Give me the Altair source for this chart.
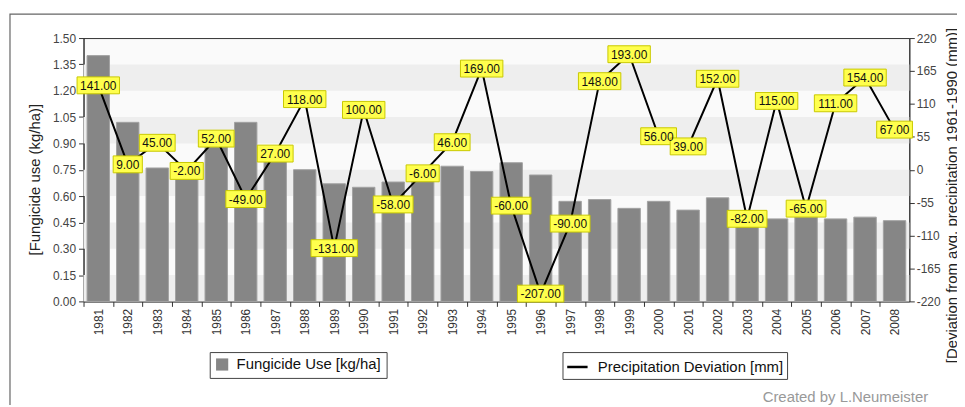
import altair as alt
import pandas as pd

years = [str(y) for y in range(1981, 2009)]
fungicide = [1.40, 1.02, 0.76, 0.73, 0.88, 1.02, 0.81, 0.75, 0.67, 0.65,
             0.68, 0.70, 0.77, 0.74, 0.79, 0.72, 0.57, 0.58, 0.53, 0.57,
             0.52, 0.59, 0.50, 0.47, 0.48, 0.47, 0.48, 0.46]
precip = [141, 9, 45, -2, 52, -49, 27, 118, -131, 100, -58, -6, 46, 169,
          -60, -207, -90, 148, 193, 56, 39, 152, -82, 115, -65, 111, 154, 67]

left_ticks = [0.00, 0.15, 0.30, 0.45, 0.60, 0.75, 0.90, 1.05, 1.20, 1.35, 1.50]
right_ticks = [-220, -165, -110, -55, 0, 55, 110, 165, 220]
bar_label = "Fungicide Use [kg/ha]"
line_label = "Precipitation Deviation [mm]"
left_title = "[Fungicide use (kg/ha)]"
right_title = "[Deviation from avg. precipitation 1961-1990 (mm)]"
credit = "Created by L.Neumeister"

W, H = 831, 265
FONT = "Liberation Sans"
step = W / len(years)

df = pd.DataFrame({"year": years, "fung": fungicide, "prec": precip})
# gray bands are every other tick interval, starting from 0
bands = pd.DataFrame({"lo": [left_ticks[i] for i in range(0, 10, 2)],
                      "hi": [left_ticks[i + 1] for i in range(0, 10, 2)]})

xenc = alt.X("year:N", sort=years,
             scale=alt.Scale(paddingInner=0.24, paddingOuter=0.12),
             axis=alt.Axis(title=None, labelAngle=270, labelFont=FONT, labelFontSize=12,
                           labelColor="#333", tickColor="#333", domainColor="#333",
                           tickSize=5, labelPadding=2,
                           tickOffset=-step / 2, labelOffset=step / 2))

lscale = alt.Scale(domain=[0, 1.5], nice=False, zero=True)
laxis = alt.Axis(values=left_ticks, format=".2f", title=left_title, grid=False,
                 labelFont=FONT, labelFontSize=12, labelColor="#444", tickColor="#333",
                 domainColor="#333", tickSize=5, labelPadding=3,
                 titleFont=FONT, titleFontSize=15, titleFontWeight="normal", titleColor="#222",
                 titleAngle=270, titleAlign="center", titleBaseline="middle",
                 titleX=-49, titleY=142)

rscale = alt.Scale(domain=[-220, 220], nice=False, zero=False)
raxis = alt.Axis(orient="right", values=right_ticks, labelExpr="datum.value + ''",
                 title=right_title, grid=False,
                 labelFont=FONT, labelFontSize=12, labelColor="#444", tickColor="#333",
                 domainColor="#333", tickSize=5, labelPadding=2,
                 titleFont=FONT, titleFontSize=15, titleFontWeight="normal", titleColor="#222",
                 titleAngle=270, titleAlign="center", titleBaseline="middle",
                 titleX=43, titleY=158)

band_layer = alt.Chart(bands).mark_rect(color="#eeeeee").encode(
    y=alt.Y("lo:Q", scale=lscale, axis=laxis), y2="hi:Q")

bar_layer = alt.Chart(df).mark_bar(stroke="#a2a2a2", strokeWidth=1).transform_calculate(
    s1=f"'{bar_label}'").encode(
    x=xenc,
    y=alt.Y("fung:Q", scale=lscale, axis=laxis),
    color=alt.Color("s1:N", scale=alt.Scale(domain=[bar_label], range=["#868686"]),
                    legend=alt.Legend(title=None, orient="none", legendX=127, legendY=316,
                                      symbolType="square", symbolSize=150,
                                      symbolStrokeWidth=0,
                                      labelFont=FONT, labelFontSize=15, labelColor="#111",
                                      labelLimit=400, strokeColor="#444", fillColor="white",
                                      padding=5, labelOffset=7)))

left = alt.layer(band_layer, bar_layer)

base_r = alt.Chart(df).transform_calculate(
    lab="replace(format(datum.prec, '.2f'), '\u2212', '-')",
    s2=f"'{line_label}'").transform_calculate(
    bw="length(replace(replace(datum.lab, '-', ''), '.', '')) * 6.67 + 3.34 + (datum.prec < 0 ? 4 : 0) + 6")

line_layer = base_r.mark_line(strokeWidth=2).encode(
    x=xenc,
    y=alt.Y("prec:Q", scale=rscale, axis=raxis),
    stroke=alt.Stroke("s2:N", scale=alt.Scale(domain=[line_label], range=["black"]),
                      legend=alt.Legend(title=None, orient="none", legendX=482, legendY=316,
                                        symbolType="stroke", symbolSize=420,
                                        symbolStrokeWidth=2.5,
                                        labelFont=FONT, labelFontSize=15, labelColor="#111",
                                        labelLimit=400, strokeColor="#444", fillColor="white",
                                        padding=3.5, labelOffset=9)))

box_layer = base_r.mark_bar(yOffset=-8.5, y2Offset=8.5, fill="#ffff4d",
                            stroke="#c9c900", strokeWidth=1).encode(
    x=xenc,
    y=alt.Y("prec:Q", scale=rscale, axis=raxis),
    y2="prec:Q",
    size=alt.Size("bw:Q", scale=None, legend=None))

text_layer = base_r.mark_text(font=FONT, fontSize=12, color="#111",
                              baseline="middle", align="center", dy=0.5).encode(
    x=xenc,
    y=alt.Y("prec:Q", scale=rscale, axis=raxis),
    text="lab:N")

right = alt.layer(line_layer, box_layer, text_layer)

one = pd.DataFrame({"k": [0]})
frame = alt.Chart(one).mark_rect(fill=None, stroke="#666", strokeWidth=1.2).encode(
    x=alt.value(-74), x2=alt.value(W + 200), y=alt.value(-24), y2=alt.value(H + 200))
credit_layer = alt.Chart(one).mark_text(font=FONT, fontSize=15, color="#999",
                                        align="right", baseline="middle").encode(
    x=alt.value(850), y=alt.value(361), text=alt.value(credit))

chart = alt.layer(left, right, frame, credit_layer).resolve_scale(
    y="independent", color="independent", stroke="independent").properties(
    width=W, height=H,
    autosize=alt.AutoSizeParams(type="none"),
    padding={"left": 76, "top": 29, "right": 48, "bottom": 103},
    background="white",
).configure_view(stroke="#333", fill="#fafafa")

chart.save("out.html", embed_options={"renderer": "svg", "actions": False})
